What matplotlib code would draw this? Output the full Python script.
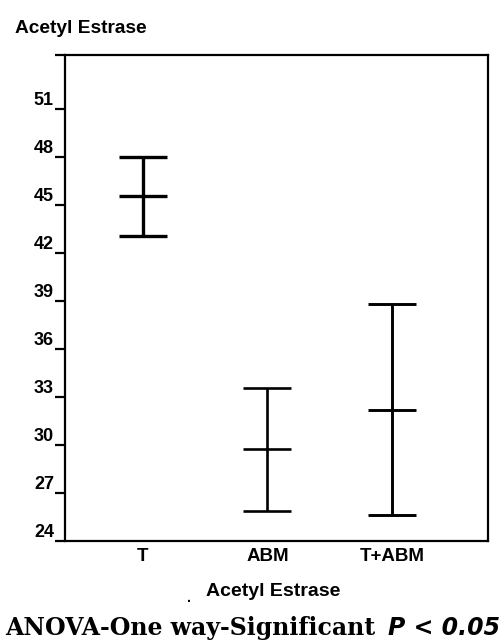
import matplotlib
matplotlib.use("Agg")
import matplotlib.pyplot as plt

# Data
groups = ["T", "ABM", "T+ABM"]
means = [45.55, 29.75, 32.2]
errors = [2.45, 3.85, 6.6]
line_widths = [2.4, 1.9, 2.1]
yticks = [24, 27, 30, 33, 36, 39, 42, 45, 48, 51]

fig = plt.figure(figsize=(5.04, 6.43), dpi=100)
ax = fig.add_axes([0.129, 0.1586, 0.839, 0.756])

xpos = [1, 2, 3]
for x, m, e, lw in zip(xpos, means, errors, line_widths):
    ax.errorbar([x], [m], yerr=[e], fmt='none', ecolor='black',
                elinewidth=lw, capsize=17.5, capthick=lw)
    ax.plot([x], [m], marker='_', markersize=35, markeredgewidth=lw,
            color='black', linestyle='none')

ax.set_xlim(0.376, 3.768)
ax.set_ylim(24, 54.4)
ax.set_yticks(yticks)
ax.set_yticklabels([str(t) for t in yticks])
ax.set_xticks(xpos)
ax.set_xticklabels(groups)

for s in ax.spines.values():
    s.set_linewidth(1.6)
    s.set_color('black')

ax.tick_params(axis='y', direction='out', length=7, width=1.6, pad=1,
               labelsize=13)
ax.tick_params(axis='x', length=0, pad=5, labelsize=13.5)
for lab in ax.get_yticklabels():
    lab.set_fontweight('bold')
    lab.set_family('Liberation Sans')
    lab.set_verticalalignment('bottom')
for lab in ax.get_xticklabels():
    lab.set_fontweight('bold')
    lab.set_family('Liberation Sans')

# top-left extended tick
ax.set_yticks([54.4], minor=True)
ax.tick_params(axis='y', which='minor', direction='out', length=7, width=1.6)

fig.text(0.03, 0.955, "Acetyl Estrase", fontsize=13.8, fontweight='bold',
         family='Liberation Sans', ha='left', va='center')

fig.text(273 / 504, 1 - 592 / 643, "Acetyl Estrase", fontsize=14,
         fontweight='bold', family='Liberation Sans', ha='center', va='center')
fig.text(189 / 504, 1 - 598 / 643, ".", fontsize=10, fontweight='bold',
         family='Liberation Sans', ha='center', va='center')

fig.text(0.01, 1 - 628 / 643, "ANOVA-One way-Significant", fontsize=17,
         fontweight='bold', family='DejaVu Serif', ha='left', va='center')
fig.text(0.993, 1 - 628 / 643, "P < 0.05", fontsize=17, fontweight='bold',
         style='italic', family='DejaVu Sans', ha='right', va='center')

fig.savefig("out.png", dpi=100)
